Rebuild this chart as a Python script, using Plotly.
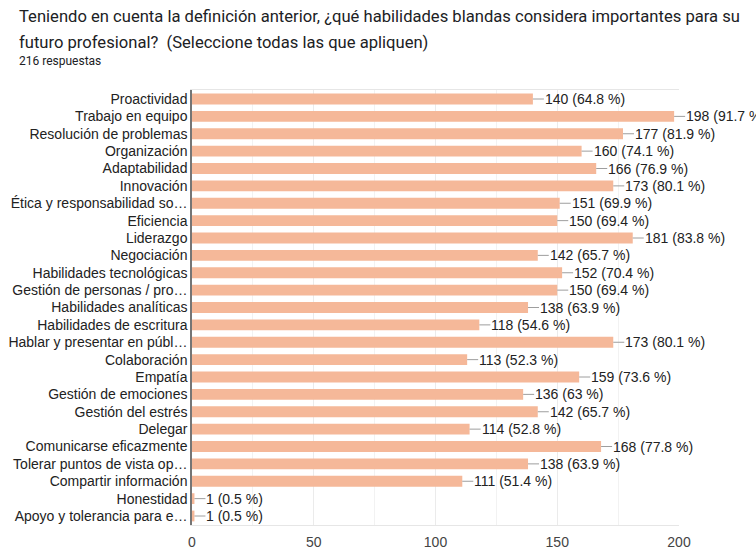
import plotly.graph_objects as go

# Respuestas por habilidad blanda (216 respuestas en total)
skills = [
    "Proactividad",
    "Trabajo en equipo",
    "Resolución de problemas",
    "Organización",
    "Adaptabilidad",
    "Innovación",
    "Ética y responsabilidad so…",
    "Eficiencia",
    "Liderazgo",
    "Negociación",
    "Habilidades tecnológicas",
    "Gestión de personas / pro…",
    "Habilidades analíticas",
    "Habilidades de escritura",
    "Hablar y presentar en públ…",
    "Colaboración",
    "Empatía",
    "Gestión de emociones",
    "Gestión del estrés",
    "Delegar",
    "Comunicarse eficazmente",
    "Tolerar puntos de vista op…",
    "Compartir información",
    "Honestidad",
    "Apoyo y tolerancia para e…",
]
counts = [140, 198, 177, 160, 166, 173, 151, 150, 181, 142, 152, 150, 138,
          118, 173, 113, 159, 136, 142, 114, 168, 138, 111, 1, 1]
percents = ["64.8", "91.7", "81.9", "74.1", "76.9", "80.1", "69.9", "69.4",
            "83.8", "65.7", "70.4", "69.4", "63.9", "54.6", "80.1", "52.3",
            "73.6", "63", "65.7", "52.8", "77.8", "63.9", "51.4", "0.5", "0.5"]
total_responses = 216
x_ticks = [0, 50, 100, 150, 200]

title_lines = [
    "Teniendo en cuenta la definición anterior, ¿qué habilidades blandas considera importantes para su",
    "futuro profesional?  (Seleccione todas las que apliquen)",
]

BAR = "#f5b899"
TEXT = "#222222"
PLOT_W, PLOT_H = 487, 435  # plot area in px (for paper-space text placement)

fig = go.Figure()
fig.add_trace(go.Bar(
    x=counts,
    y=skills,
    orientation="h",
    marker=dict(color=BAR, line=dict(width=0)),
    hoverinfo="skip",
))

# Etiquetas de valor con línea guía
for skill, c, p in zip(skills, counts, percents):
    fig.add_annotation(
        x=c, y=skill, xref="x", yref="y",
        text=f"{c} ({p} %)",
        showarrow=True, arrowhead=0, arrowwidth=1, arrowcolor="#9e9e9e",
        ax=11, ay=0, xanchor="left", yanchor="middle",
        font=dict(family="Liberation Sans, Arial", size=14, color=TEXT),
        borderpad=0,
    )

# Título en dos líneas y número de respuestas
left = -175 / PLOT_W
for line, yc in zip(title_lines, [17, 42]):
    fig.add_annotation(
        x=left, y=1 + (90 - yc) / PLOT_H, xref="paper", yref="paper",
        text=line, showarrow=False, xanchor="left", yanchor="middle",
        font=dict(family="Roboto", size=16.6, color="#202124"),
    )
fig.add_annotation(
    x=left, y=1 + (90 - 61) / PLOT_H, xref="paper", yref="paper",
    text=f"{total_responses} respuestas", showarrow=False,
    xanchor="left", yanchor="middle",
    font=dict(family="Roboto", size=12, color="#202124"),
)

fig.update_layout(
    width=756, height=550,
    margin=dict(l=192, r=77, t=90, b=25, autoexpand=False),
    paper_bgcolor="white", plot_bgcolor="white",
    showlegend=False,
    bargap=0.38,
    xaxis=dict(
        range=[0, 200], tickvals=x_ticks, ticks="outside", ticklen=4,
        tickcolor="rgba(0,0,0,0)", automargin=False,
        tickfont=dict(family="Liberation Sans, Arial", size=14, color="#444444"),
        showgrid=True, gridcolor="#ebebeb", gridwidth=1,
        minor=dict(dtick=25, showgrid=True, gridcolor="#f2f2f2"),
        showline=True, linecolor="#e6e6e6", mirror=True,
        zeroline=False, fixedrange=True,
    ),
    yaxis=dict(
        categoryorder="array", categoryarray=skills, autorange="reversed",
        tickmode="array", tickvals=skills, ticktext=skills, automargin=False,
        ticks="",
        tickfont=dict(family="Liberation Sans, Arial", size=14, color=TEXT),
        showline=True, linecolor="#757575", linewidth=1.5,
        showgrid=False, zeroline=False, fixedrange=True,
    ),
)

fig.write_html("out.html")
